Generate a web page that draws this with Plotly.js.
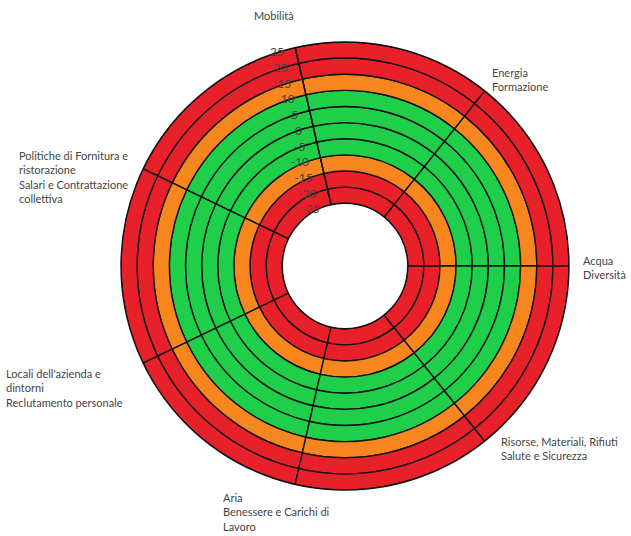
<!DOCTYPE html>
<html>
<head>
<meta charset="utf-8">
<script src="https://cdn.plot.ly/plotly-3.0.1.min.js"></script>
<style>html,body{margin:0;padding:0;background:#fff;}#chart{width:631px;height:536px;}</style>
</head>
<body>
<div id="chart"></div>
<script>
// Spoke labels, counterclockwise from the right (east)
const sectorLabels = [
  'Acqua<br>Diversità',
  'Energia<br>Formazione',
  'Mobilità',
  'Politiche di Fornitura e<br>ristorazione<br>Salari e Contrattazione<br>collettiva',
  "Locali dell'azienda e<br>dintorni<br>Reclutamento personale",
  'Aria<br>Benessere e Carichi di<br>Lavoro',
  'Risorse, Materiali, Rifiuti<br>Salute e Sicurezza'
];
// Rings: lower bound of each 5-point band, inner to outer
const ringBase = [-25, -20, -15, -10, -5, 0, 5, 10, 15, 20];
const ringStep = 5;
const ringZone = ['red', 'red', 'orange', 'green', 'green', 'green', 'green', 'orange', 'red', 'red'];
const radialTicks = [-25, -20, -15, -10, -5, 0, 5, 10, 15, 20, 25];

const zoneColor = {red: '#E8202A', orange: '#F7861F', green: '#1FCF4A'};
const n = sectorLabels.length;
const step = 360 / n;
const spokeAngles = sectorLabels.map((_, i) => i * step);
const sectorCenters = spokeAngles.map(a => a + step / 2);

const traces = ringBase.map((b, k) => ({
  type: 'barpolar',
  theta: sectorCenters,
  r: sectorCenters.map(() => ringStep),
  base: sectorCenters.map(() => b),
  width: sectorCenters.map(() => step),
  marker: {color: zoneColor[ringZone[k]], line: {color: '#111', width: 1.4}},
  hoverinfo: 'skip',
  showlegend: false
}));

// label placement (paper coords)
const labelPos = [
  {x: 581, y: 252, xa: 'left'},
  {x: 490, y: 64, xa: 'left'},
  {x: 274, y: 7, xa: 'center'},
  {x: 17, y: 147, xa: 'left'},
  {x: 4, y: 365, xa: 'left'},
  {x: 221, y: 489, xa: 'left'},
  {x: 499, y: 433, xa: 'left'}
];
const W = 631, H = 536;
const annotations = sectorLabels.map((t, i) => ({
  text: t, xref: 'paper', yref: 'paper',
  x: labelPos[i].x / W, y: 1 - labelPos[i].y / H,
  xanchor: labelPos[i].xa, yanchor: 'top', align: 'left', showarrow: false,
  font: {family: 'Lato, "Open Sans", sans-serif', size: 11, color: '#444'}
}));

const cx = 345, cy = 266, R = 224;
const layout = {
  width: W, height: H,
  margin: {l: 0, r: 0, t: 0, b: 0},
  paper_bgcolor: '#fff',
  showlegend: false,
  barmode: 'overlay',
  annotations: annotations,
  polar: {
    domain: {x: [(cx - R) / W, (cx + R) / W], y: [(H - cy - R) / H, (H - cy + R) / H]},
    hole: 0.28,
    bgcolor: 'rgba(0,0,0,0)',
    radialaxis: {
      range: [radialTicks[0], radialTicks[radialTicks.length - 1]],
      tickvals: radialTicks,
      ticktext: radialTicks.map(String),
      angle: spokeAngles[2],
      side: 'counterclockwise',
      tickangle: spokeAngles[2],
      showline: true, linecolor: '#111', linewidth: 1.4,
      showgrid: false, ticks: '',
      tickfont: {family: 'Lato, "Open Sans", sans-serif', size: 12, color: '#444'},
      layer: 'above traces'
    },
    angularaxis: {
      thetaunit: 'degrees',
      rotation: 0, direction: 'counterclockwise',
      showticklabels: false, ticks: '', showgrid: false,
      showline: true, linecolor: '#111', linewidth: 1.4
    }
  }
};
Plotly.newPlot('chart', traces, layout, {displayModeBar: false, staticPlot: true});
</script>
</body>
</html>
